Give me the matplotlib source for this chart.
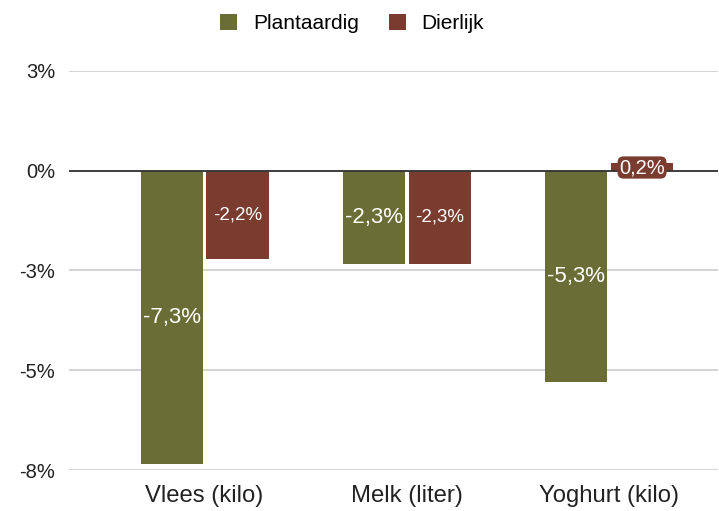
import matplotlib
matplotlib.use("Agg")
import matplotlib.pyplot as plt
import numpy as np

categories = ["Vlees (kilo)", "Melk (liter)", "Yoghurt (kilo)"]
series_names = ["Plantaardig", "Dierlijk"]
plantaardig = [-0.0735, -0.0235, -0.053]
dierlijk = [-0.0222, -0.0233, 0.002]
plant_labels = ["-7,3%", "-2,3%", "-5,3%"]
dier_labels = ["-2,2%", "-2,3%", "0,2%"]
yticks = [0.025, 0.0, -0.025, -0.05, -0.075]
ytick_labels = ["3%", "0%", "-3%", "-5%", "-8%"]

olive = "#6a6e36"
brown = "#7a3c2e"

plt.rcParams['font.family'] = ['Liberation Sans', 'DejaVu Sans']
fig = plt.figure(figsize=(7.19, 5.11), dpi=100)
ax = fig.add_axes([0.096, 0.0802, 0.903, 0.781])

x = np.arange(len(categories))
w = 0.307
off = 0.163
ax.bar(x - off, plantaardig, width=w, color=olive, zorder=2, label=series_names[0])
ax.bar(x + off, dierlijk, width=w, color=brown, zorder=2, label=series_names[1])

big = 16
small = 13.5
for i in range(len(categories)):
    ax.text(x[i] - off, plantaardig[i] / 2, plant_labels[i], ha="center", va="center",
            color="white", fontsize=big, zorder=4)
    if abs(dierlijk[i]) < 0.005:
        ax.text(x[i] + off, dierlijk[i] / 2 - 0.0002, dier_labels[i], ha="center", va="center",
                color="white", fontsize=14.5, zorder=4,
                bbox=dict(boxstyle="round,pad=0.08,rounding_size=0.3", fc=brown, ec="none"))
    else:
        ax.text(x[i] + off, dierlijk[i] / 2, dier_labels[i], ha="center", va="center",
                color="white", fontsize=small, zorder=4)

ax.set_ylim(-0.075, 0.025)
ax.set_xlim(-0.67, 2.54)
ax.set_yticks(yticks)
ax.set_yticklabels(ytick_labels, fontsize=14.5, color="#222222")
ax.set_xticks(x)
ax.set_xticklabels(categories, fontsize=17.2, color="#222222")
ax.tick_params(length=0)
ax.tick_params(axis="y", pad=10)
ax.tick_params(axis="x", pad=11)
for s in ax.spines.values():
    s.set_visible(False)
ax.grid(axis="y", color="#cccccc", linewidth=1.2, zorder=0)
ax.axhline(0, color="#333333", linewidth=1.3, zorder=3)

leg = fig.legend(loc="upper center", bbox_to_anchor=(0.49, 1.01), ncol=2, frameon=False,
                 fontsize=15, handlelength=0.82, handleheight=0.82, columnspacing=1.4,
                 handletextpad=0.77)

fig.savefig("out.png", dpi=100)
